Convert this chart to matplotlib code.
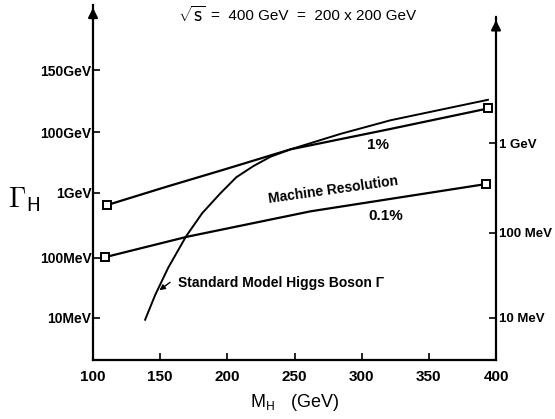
import matplotlib

matplotlib.use("Agg")

import matplotlib.pyplot as plt

plt.rcParams["font.family"] = ["Liberation Sans", "DejaVu Sans"]
plt.rcParams["mathtext.fontset"] = "cm"

# y is a position in "decades" along the printed width axis
LEFT_TICKS = [-2.0, -1.03, 0.02, 1.0, 2.0]
LEFT_LABELS = ["10MeV", "100MeV", "1GeV", "100GeV", "150GeV"]
RIGHT_TICKS = [-2.0, -0.63, 0.82]
RIGHT_LABELS = ["10 MeV", "100 MeV", "1 GeV"]
X_TICKS = [100, 150, 200, 250, 300, 350, 400]

# 1% machine resolution
res1_x = [110.4, 153.7, 197.0, 247.0, 321.6, 394.0]
res1_y = [-0.18, 0.11, 0.39, 0.72, 1.05, 1.38]

# 0.1% machine resolution
res01_x = [109.0, 170.2, 262.0, 392.5]
res01_y = [-1.02, -0.69, -0.28, 0.16]

# Standard Model Higgs width
sm_x = [138.8, 146.3, 156.0, 169.4, 181.3, 194.8, 206.7, 219.4, 232.1, 247.0, 284.3, 321.6, 394.0]
sm_y = [-2.03, -1.63, -1.19, -0.68, -0.31, 0.01, 0.27, 0.45, 0.60, 0.72, 0.97, 1.19, 1.52]

YMIN, YMAX = -2.68, 3.05

fig = plt.figure(figsize=(5.55, 4.19), dpi=100)
ax = fig.add_axes([93 / 555, 1 - 360 / 419, (496 - 93) / 555, (360 - 5) / 419])
ax.set_xlim(100, 400)
ax.set_ylim(YMIN, YMAX)

ax.plot(res1_x, res1_y, color="black", lw=1.6)
ax.plot(res01_x, res01_y, color="black", lw=1.6)
ax.plot(sm_x, sm_y, color="black", lw=1.4)
for xs, ys in [(res1_x, res1_y), (res01_x, res01_y)]:
    ax.plot([xs[0], xs[-1]], [ys[0], ys[-1]], ls="none", marker="s", ms=6,
            mfc="white", mec="black", mew=1.4, zorder=5)

ax.spines["top"].set_visible(False)
for side in ["left", "right", "bottom"]:
    ax.spines[side].set_linewidth(1.6)
ax.spines["right"].set_bounds(YMIN, 2.85)

ax.set_xticks(X_TICKS)
ax.set_xticklabels([str(v) for v in X_TICKS], fontsize=11, weight="bold")
ax.tick_params(axis="x", direction="in", length=5, width=1.2, pad=7)
ax.set_yticks(LEFT_TICKS)
ax.set_yticklabels(LEFT_LABELS, fontsize=10, weight="bold")
ax.tick_params(axis="y", direction="in", length=5, width=1.2, pad=1)

ax2 = ax.twinx()
ax2.set_ylim(YMIN, YMAX)
for side in ["left", "right", "bottom", "top"]:
    ax2.spines[side].set_visible(False)
ax2.set_yticks(RIGHT_TICKS)
ax2.set_yticklabels(RIGHT_LABELS, fontsize=9.5, weight="bold")
ax2.tick_params(axis="y", direction="in", length=5, width=1.2, pad=2)

# arrow heads on the vertical axes
ax.annotate("", xy=(0, 1.0), xytext=(0, 0.95), xycoords="axes fraction",
            arrowprops=dict(arrowstyle="-|>", color="black", lw=1.6, mutation_scale=14))
ax.annotate("", xy=(1, (2.85 - YMIN) / (YMAX - YMIN)),
            xytext=(1, (2.6 - YMIN) / (YMAX - YMIN)), xycoords="axes fraction",
            arrowprops=dict(arrowstyle="-|>", color="black", lw=1.6, mutation_scale=14))

ax.text(312, 0.79, "1%", fontsize=11, weight="bold", ha="center", va="center")
ax.text(318, -0.355, "0.1%", fontsize=11, weight="bold", ha="center", va="center")
ax.text(279, 0.06, "Machine Resolution", fontsize=10, weight="bold",
        ha="center", va="center", rotation=8)
ax.text(163.4, -1.44, "Standard Model Higgs Boson \u0393", fontsize=10, weight="bold",
        ha="left", va="center")
ax.annotate("", xy=(147.8, -1.58), xytext=(159, -1.40),
            arrowprops=dict(arrowstyle="-|>", color="black", lw=1.0, mutation_scale=8))

# title: big root sign, then the energies
fig.text(178 / 555, 1 - 16 / 419, r"$\sqrt{\mathsf{s}}$", fontsize=15,
         ha="left", va="center")
fig.text(211 / 555, 1 - 16 / 419, "=  400 GeV  =  200 x 200 GeV",
         fontsize=11, ha="left", va="center")
fig.text(24 / 555, 1 - 200 / 419, r"$\Gamma_{\mathsf{H}}$", fontsize=20,
         ha="center", va="center")
fig.text(295 / 555, 1 - 402 / 419, r"M$_{\mathsf{H}}$   (GeV)", fontsize=13,
         ha="center", va="center")

fig.savefig("out.png", dpi=100)
